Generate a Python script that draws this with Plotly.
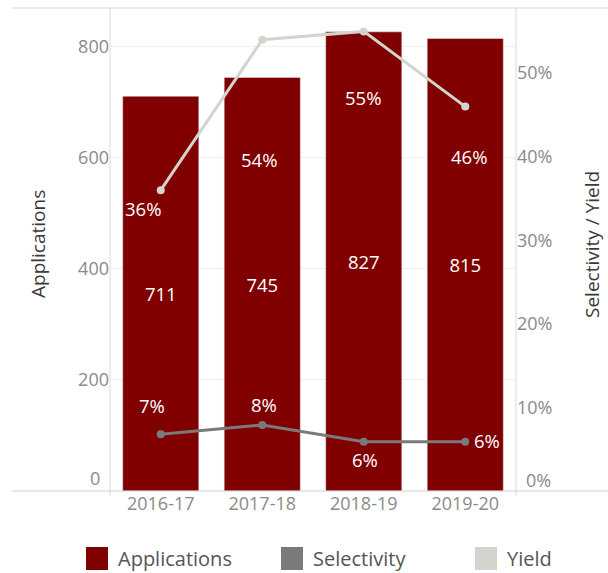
import plotly.graph_objects as go

years = ["2016-17", "2017-18", "2018-19", "2019-20"]
applications = [711, 745, 827, 815]
selectivity = [0.068, 0.079, 0.059, 0.059]
yield_rate = [0.36, 0.54, 0.55, 0.46]
sel_labels = ["7%", "8%", "6%", "6%"]
yield_labels = ["36%", "54%", "55%", "46%"]
left_ticks = [200, 400, 600, 800]
right_ticks = [0.1, 0.2, 0.3, 0.4, 0.5]

FONT = "Open Sans"
BAR = "#800000"
SEL = "#7a7a7a"
YLD = "#d4d4cf"
TICK = "#8a8a8a"
TICK_SIZE = 18
LABEL_SIZE = 18.5
TITLE_SIZE = 19
LEGEND_SIZE = 20

# full-page figure (body margin removed via post_script)
W, H = 608, 573
L, R = 110, 516
T, B = 8, 491
pw, ph = R - L, B - T


def px(xr):
    return (xr - L) / pw


def py(yr):
    return (B - yr) / ph


fig = go.Figure()
fig.add_trace(go.Bar(
    x=years, y=applications, marker_color=BAR, width=0.75,
    text=[str(v) for v in applications], textposition="inside",
    insidetextanchor="middle", textangle=0,
    textfont=dict(color="white", size=LABEL_SIZE, family=FONT), name="Applications",
))
fig.add_trace(go.Scatter(
    x=years, y=yield_rate, yaxis="y2", mode="lines+markers",
    line=dict(color=YLD, width=3), marker=dict(color=YLD, size=8), name="Yield",
))
fig.add_trace(go.Scatter(
    x=years, y=selectivity, yaxis="y2", mode="lines+markers",
    line=dict(color=SEL, width=3), marker=dict(color=SEL, size=8), name="Selectivity",
))

annotations = []
yield_shift = [(-18, -18), (-3, -120), (-1, -66), (4, -50)]
sel_shift = [(-9, 29), (2, 20), (1, -18), (22, 1)]
for i, yr in enumerate(years):
    annotations.append(dict(x=yr, y=yield_rate[i], yref="y2", text=yield_labels[i],
                            showarrow=False, xshift=yield_shift[i][0], yshift=yield_shift[i][1],
                            font=dict(color="white", size=LABEL_SIZE, family=FONT)))
    annotations.append(dict(x=yr, y=selectivity[i], yref="y2", text=sel_labels[i],
                            showarrow=False, xshift=sel_shift[i][0], yshift=sel_shift[i][1],
                            font=dict(color="white", size=LABEL_SIZE, family=FONT)))

# zero tick labels (Tableau lifts them above the baseline)
annotations.append(dict(x=0, xref="paper", xanchor="right", xshift=-8, y=0, yref="y",
                        yshift=13, text="0", showarrow=False,
                        font=dict(color=TICK, size=TICK_SIZE, family=FONT)))
annotations.append(dict(x=1, xref="paper", xanchor="left", xshift=8, y=0, yref="y2",
                        yshift=11, text="0%", showarrow=False,
                        font=dict(color=TICK, size=TICK_SIZE, family=FONT)))

# axis titles
annotations.append(dict(x=px(38), y=py(244), xref="paper", yref="paper", text="Applications",
                        textangle=-90, showarrow=False, xanchor="center", yanchor="middle",
                        font=dict(color="#3a3a3a", size=TITLE_SIZE, family=FONT)))
annotations.append(dict(x=px(592), y=py(245), xref="paper", yref="paper", text="Selectivity / Yield",
                        textangle=-90, showarrow=False, xanchor="center", yanchor="middle",
                        font=dict(color="#3a3a3a", size=TITLE_SIZE, family=FONT)))

# legend
legend_items = [("Applications", BAR, 86), ("Selectivity", SEL, 281), ("Yield", YLD, 475)]
shapes = []
for name, col, x0 in legend_items:
    shapes.append(dict(type="rect", xref="paper", yref="paper",
                       x0=px(x0), x1=px(x0 + 22), y0=py(570), y1=py(547),
                       fillcolor=col, line=dict(width=0)))
    annotations.append(dict(x=px(x0 + 30), y=py(558), xref="paper", yref="paper",
                            xanchor="left", yanchor="middle", text=name, showarrow=False,
                            font=dict(color="#555555", size=LEGEND_SIZE, family=FONT)))

# frame lines
shapes.append(dict(type="line", xref="paper", yref="paper", x0=px(12), x1=px(608),
                   y0=1, y1=1, line=dict(color="#d9d9d9", width=1)))
shapes.append(dict(type="line", xref="paper", yref="paper", x0=px(12), x1=px(608),
                   y0=0, y1=0, line=dict(color="#d0d0d0", width=1)))
shapes.append(dict(type="line", xref="paper", yref="paper", x0=0, x1=0,
                   y0=py(496), y1=1, line=dict(color="#d9d9d9", width=1)))
shapes.append(dict(type="line", xref="paper", yref="paper", x0=1, x1=1,
                   y0=py(496), y1=1, line=dict(color="#d9d9d9", width=1)))

fig.update_layout(
    width=W, height=H,
    margin=dict(l=L, r=W - R, t=T, b=H - B, pad=0),
    paper_bgcolor="white", plot_bgcolor="white",
    showlegend=False, bargap=0.25,
    font=dict(family=FONT, color=TICK),
    xaxis=dict(tickfont=dict(size=TICK_SIZE, color=TICK), showgrid=False, showline=False,
               ticks="", zeroline=False),
    yaxis=dict(range=[0, 870], tickvals=left_ticks, ticktext=[str(v) for v in left_ticks],
               tickfont=dict(size=TICK_SIZE, color=TICK), showgrid=True, gridcolor="#efefef",
               zeroline=False, showline=False, ticks=""),
    yaxis2=dict(range=[0, 0.578], overlaying="y", side="right", tickvals=right_ticks,
                ticktext=[f"{int(round(v*100))}%" for v in right_ticks],
                tickfont=dict(size=TICK_SIZE, color=TICK), showgrid=False, zeroline=False,
                showline=False, ticks=""),
    annotations=annotations, shapes=shapes,
)

fig.write_html(
    "out.html",
    config={"displayModeBar": False},
    post_script="document.body.style.margin='0';document.body.style.overflow='hidden';",
)
